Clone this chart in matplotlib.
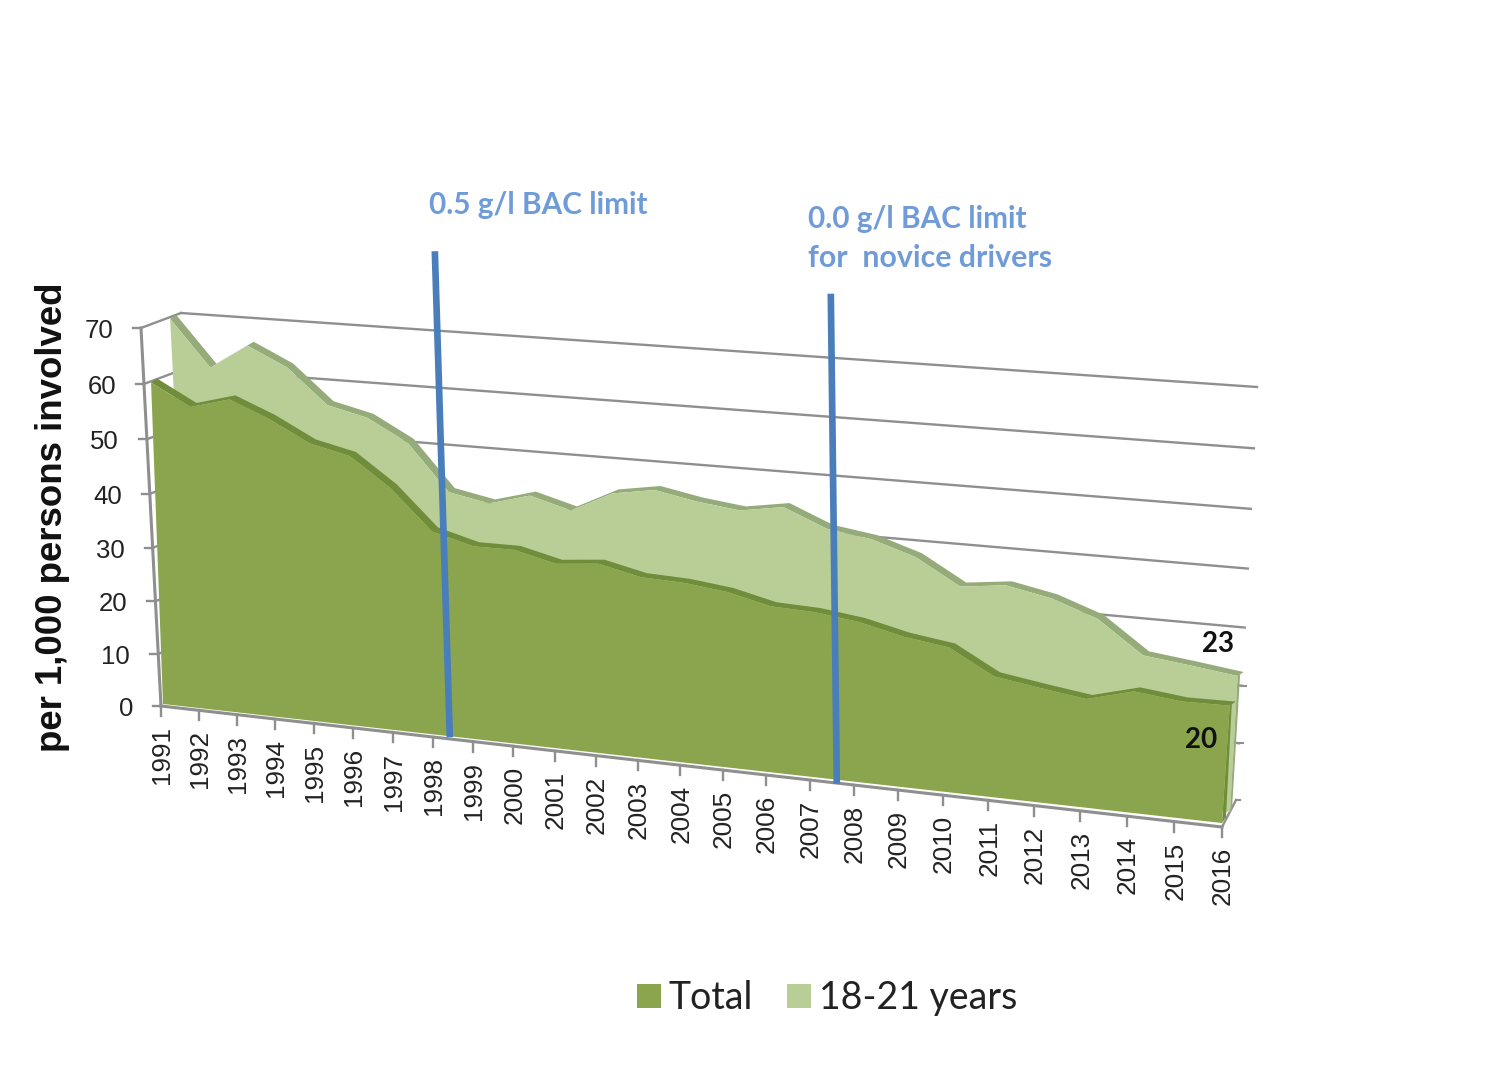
import numpy as np
import matplotlib
matplotlib.use('Agg')
import matplotlib.pyplot as plt
from matplotlib.patches import Patch, Polygon

years = list(range(1991, 2017))
total = [60, 56.1, 58, 55, 51.2, 49.5, 44.3, 37.2, 35.2, 35.2, 33.4, 34.1, 32.4, 32.1,
         31.2, 29.4, 29.1, 28.1, 26.3, 25.2, 21, 19.8, 18.7, 20.8, 19.9, 20]
jovenes = [69.5, 61.2, 65.6, 62.2, 56, 54.3, 50.4, 42.2, 40.8, 42.8, 40.8, 44.4, 45.6, 44.2,
           43.3, 44.5, 41.4, 40.3, 37.9, 33.6, 34.5, 33, 30.3, 24.9, 24, 23]
eje_y = [0, 10, 20, 30, 40, 50, 60, 70]

verde = '#8ba54e'
verde_borde = '#6f8d3b'
verde_claro = '#b9cd96'
verde_claro_borde = '#95ab7a'
gris = '#8f8f8f'
azul = '#4a7ebb'
azul_texto = '#6f9bd8'

# esquinas en pixeles de cada plano: (0,0), (25,0), (0,70), (25,70)
plano_frente = [(163, 704), (1222, 823), (149, 327), (1250, 400)]
plano_medio = [(189, 693), (1230, 812), (170, 316), (1254, 386)]
plano_fondo = [(205, 690), (1236, 800), (181, 313), (1257, 387)]
plano_eje = [(161, 706), (1222, 827), (141, 328), (1250, 403)]


def homografia(esquinas):
    origen = [(0, 0), (25, 0), (0, 70), (25, 70)]
    A, b = [], []
    for (u, v), (x, y) in zip(origen, esquinas):
        A.append([u, v, 1, 0, 0, 0, -u * x, -v * x])
        A.append([0, 0, 0, u, v, 1, -u * y, -v * y])
        b += [x, y]
    return np.append(np.linalg.solve(np.array(A, float), np.array(b, float)), 1).reshape(3, 3)


def proyectar(H, i, valor):
    p = H @ np.array([i, valor, 1.0])
    return p[0] / p[2], p[1] / p[2]


H_frente = homografia(plano_frente)
H_medio = homografia(plano_medio)
H_fondo = homografia(plano_fondo)
H_eje = homografia(plano_eje)

fig = plt.figure(figsize=(14.89, 10.67), dpi=100)
ax = fig.add_axes([0, 0, 1, 1])
ax.set_xlim(0, 1489)
ax.set_ylim(1067, 0)
ax.axis('off')


def area(H, valores, color, color_borde, zorder, corrimiento=(6, -4)):
    n = len(valores)
    arriba = [proyectar(H, i, valores[i]) for i in range(n)]
    abajo = [proyectar(H, n - 1, 0), proyectar(H, 0, 0)]
    atras = [(x + corrimiento[0], y + corrimiento[1]) for x, y in arriba]
    ax.add_patch(Polygon(arriba + atras[::-1], closed=True, fc=color_borde, ec='none', zorder=zorder))
    ax.add_patch(Polygon(arriba + abajo, closed=True, fc=color, ec='none', zorder=zorder + 0.1))
    return arriba


# lineas de la pared del fondo y de la pared izquierda
for v in eje_y[1:]:
    x0, y0 = proyectar(H_fondo, 0, v)
    x1, y1 = proyectar(H_fondo, 25, v)
    ax.plot([x0, x1], [y0, y1], color=gris, lw=1.7, zorder=1)
    x2, y2 = proyectar(H_eje, 0, v)
    ax.plot([x2, x0], [y2, y0], color=gris, lw=1.7, zorder=1)

# pared derecha: marcas sobre el borde del fondo
for v in eje_y[:3]:
    x0, y0 = proyectar(H_fondo, 25, v)
    ax.plot([x0, x0 + 4], [y0, y0], color=gris, lw=1.5, zorder=1)
x0, y0 = proyectar(H_eje, 25, 0)
x1, y1 = proyectar(H_fondo, 25, 0)
ax.plot([x0, x1], [y0, y1], color=gris, lw=1.7, zorder=1)

area(H_medio, jovenes, verde_claro, verde_claro_borde, 2)
area(H_frente, total, verde, verde_borde, 4)

# costados derechos de cada serie
xa, ya = proyectar(H_medio, 25, jovenes[-1])
xb, yb = proyectar(H_medio, 25, 0)
ax.add_patch(Polygon([(xa, ya), (xa + 2.5, ya - 2), (xb + 2, yb - 3), (xb, yb)], fc=verde_claro_borde, ec='none', zorder=3))
xa, ya = proyectar(H_frente, 25, total[-1])
xb, yb = proyectar(H_frente, 25, 0)
ax.add_patch(Polygon([(xa, ya), (xa + 2, ya - 2), (xb + 4, yb - 6), (xb, yb)], fc=verde_borde, ec='none', zorder=3.9))

# ejes
x0, y0 = proyectar(H_eje, 0, 0)
x1, y1 = proyectar(H_eje, 25, 0)
ax.plot([x0, x1], [y0, y1], color=gris, lw=2.2, zorder=1.5)
x1, y1 = proyectar(H_eje, 0, 70)
ax.plot([x0, x1], [y0, y1], color=gris, lw=2.2, zorder=1.5)

for v in eje_y:
    x, y = proyectar(H_eje, 0, v)
    ax.plot([x - 8, x], [y, y], color=gris, lw=1.7, zorder=1.5)
    ax.text(x - 28, y + 3, str(v), ha='right', va='center', fontsize=18.5,
            family='Liberation Sans', color='#222222')

for i, anio in enumerate(years):
    x, y = proyectar(H_eje, i, 0)
    ax.plot([x, x], [y, y + 10], color=gris, lw=1.7, zorder=1.5)
    ax.text(x + 1, y + 20, str(anio), rotation=90, ha='center', va='top', fontsize=18.8,
            family='Liberation Sans', color='#222222')

# lineas de los cambios de ley
bac_anio = [1998.39, 2007.6]
bac_alto = [486, 490]
bac_incl = [-15, -6]
bac_baja = [1, 4]
for anio, alto, incl, baja in zip(bac_anio, bac_alto, bac_incl, bac_baja):
    x, y = proyectar(H_frente, anio - 1991, 0)
    y = y + baja
    ax.plot([x, x + incl], [y, y - alto], color=azul, lw=4.8, solid_capstyle='butt', zorder=6)

ax.text(429, 205, '0.5 g/l BAC limit', color=azul_texto, family='Lato', weight='bold', fontsize=21.4, va='center')
ax.text(808, 219, '0.0 g/l BAC limit', color=azul_texto, family='Lato', weight='bold', fontsize=21.4, va='center')
ax.text(808, 258, 'for  novice drivers', color=azul_texto, family='Lato', weight='bold', fontsize=21.8, va='center')

ax.text(1218, 644, str(jovenes[-1]), ha='center', va='center', family='Lato', weight='bold', fontsize=20, color='#111111', zorder=7)
ax.text(1201, 740, str(total[-1]), ha='center', va='center', family='Lato', weight='bold', fontsize=20, color='#111111', zorder=7)

ax.text(53, 517, 'per 1,000 persons involved', rotation=90, ha='center', va='center',
        family='Liberation Sans', weight='bold', fontsize=26.4, color='#111111')

ax.legend(handles=[Patch(fc=verde, label='Total'), Patch(fc=verde_claro, label='18-21 years')],
          loc='center', bbox_to_anchor=(827 / 1489, 1 - 998 / 1067), ncol=2, frameon=False,
          prop={'family': 'Lato', 'size': 27}, handlelength=0.64, handleheight=0.6,
          handletextpad=0.2, columnspacing=0.93, labelcolor='#222222')

fig.savefig('out.png', dpi=100)
